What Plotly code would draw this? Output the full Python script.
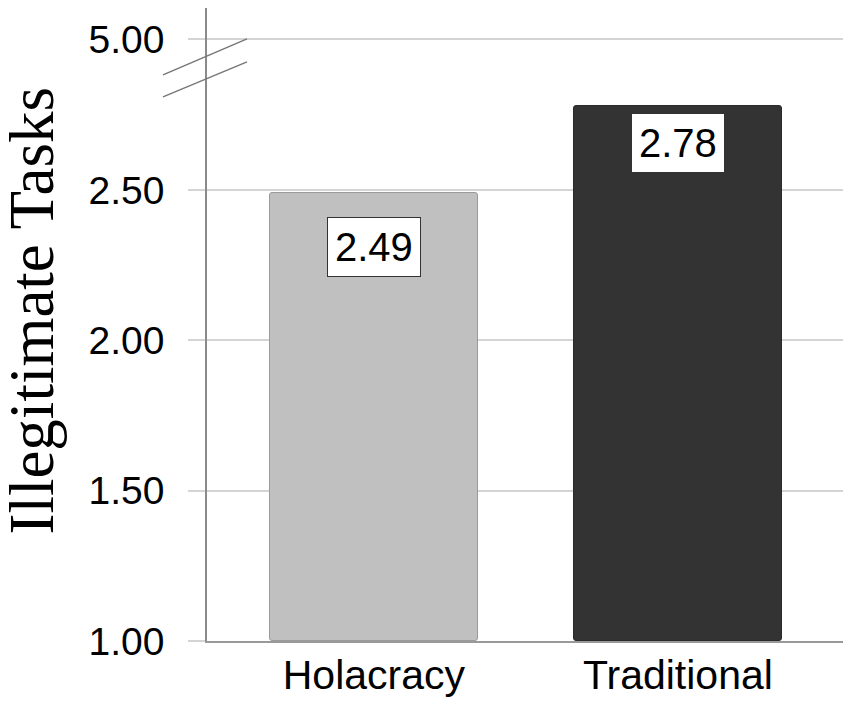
import plotly.graph_objects as go

# ---- data ----
categories = ["Holacracy", "Traditional"]
values = [2.49, 2.78]
value_labels = ["2.49", "2.78"]
y_tickvals = [1.0, 1.5, 2.0, 2.5, 3.0]
y_ticktext = ["1.00", "1.50", "2.00", "2.50", "5.00"]
y_title = "Illegitimate Tasks"

# ---- styles ----
bar_colors = ["#c0c0c0", "#333333"]
bar_line_colors = ["#9a9a9a", "#2a2a2a"]
label_shift = [-24, -7]
sans = "Liberation Sans, Arial, Helvetica, sans-serif"
serif = "Liberation Serif, Times New Roman, serif"

OFF = 8  # page body margin
W, H = 851 - OFF, 706 - OFF
ml, mr, mt, mb = 199, 8, 0, 65
pw = W - ml - mr
BASE = 1.0

fig = go.Figure()
fig.add_trace(go.Bar(
    x=categories, y=[v - BASE for v in values],
    base=BASE,
    width=0.684,
    marker=dict(color=bar_colors, line=dict(color=bar_line_colors, width=1), cornerradius=3),
    hoverinfo="skip",
))

for cat, v, lab, sh in zip(categories, values, value_labels, label_shift):
    fig.add_annotation(
        x=cat, y=v, xref="x", yref="y", text=lab, showarrow=False,
        yanchor="top", yshift=sh,
        font=dict(family=sans, size=40, color="black"),
        bgcolor="white", bordercolor="#333333", borderwidth=1, borderpad=7,
    )

def px2x(px):
    return (px - OFF - ml) / pw

def py2y(py):
    return BASE + (641 - py) / 300.7

# axis title
fig.add_annotation(
    x=px2x(-4), y=0.522, xref="paper", yref="paper",
    text=y_title, textangle=-90, showarrow=False,
    xanchor="left", yanchor="middle", borderpad=0,
    font=dict(family=serif, size=63, color="black"),
)

# axis break marks
for (x0, y0, x1, y1) in [(163, 75, 247, 39), (163, 97, 247, 62)]:
    fig.add_shape(type="line", xref="paper", yref="y",
                  x0=px2x(x0), y0=py2y(y0), x1=px2x(x1), y1=py2y(y1),
                  line=dict(color="#777777", width=1.5))

fig.update_layout(
    width=W, height=H,
    margin=dict(l=ml, r=mr, t=mt, b=mb, autoexpand=False),
    paper_bgcolor="white", plot_bgcolor="white",
    showlegend=False,
    bargap=0,
)
fig.update_xaxes(
    range=[-0.549, 1.543], automargin=False,
    showline=True, linecolor="#999999", linewidth=1.5,
    ticks="", showgrid=False,
    tickfont=dict(family=sans, size=41, color="black"),
    ticklabelstandoff=-3,
)
fig.update_yaxes(
    range=[1.0, 3.108 - 1.0 / 300.7], automargin=False,
    tickvals=y_tickvals, ticktext=y_ticktext,
    showgrid=True, gridcolor="#d4d4d4", gridwidth=1.5,
    zeroline=False,
    showline=True, linecolor="#8a8a8a", linewidth=1.5,
    ticks="outside", ticklen=17, tickcolor="#d4d4d4", tickwidth=1.5,
    tickfont=dict(family=sans, size=39, color="black"),
    ticklabelstandoff=16,
)

fig.write_html("out.html")
